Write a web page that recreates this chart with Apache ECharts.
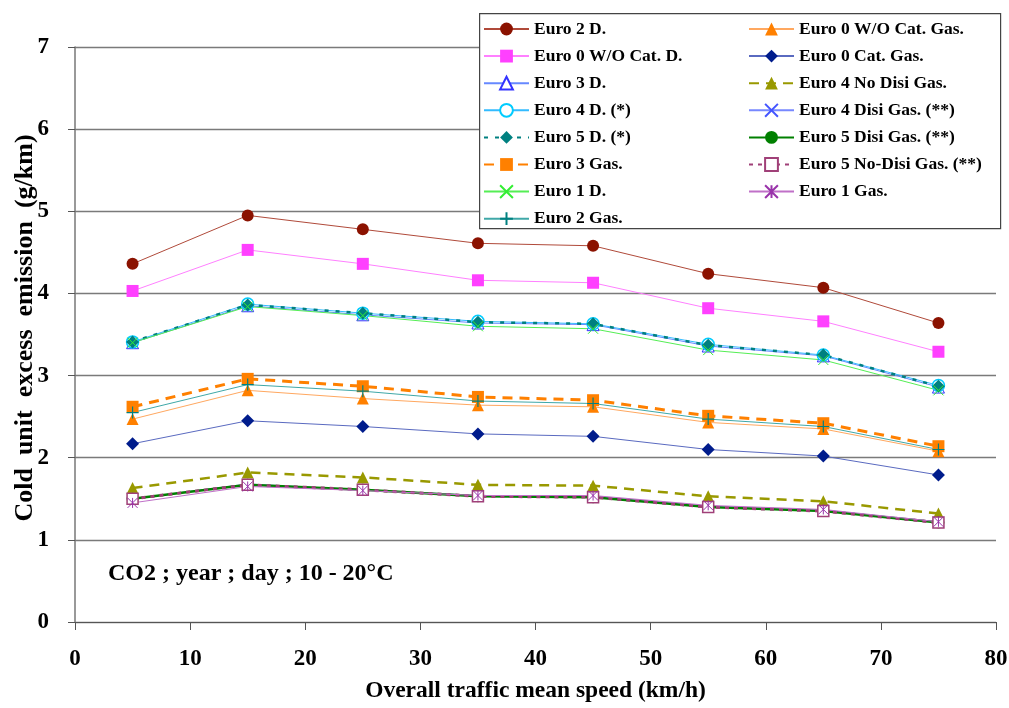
<!DOCTYPE html>
<html><head><meta charset="utf-8">
<script src="https://cdn.jsdelivr.net/npm/echarts@6/dist/echarts.min.js"></script>
<style>html,body{margin:0;padding:0;background:#fff}#c{width:1009px;height:708px}</style>
</head><body><div id="c"></div>
<script>
const speeds = [5, 15, 25, 35, 45, 55, 65, 75];
const yTicks = [0, 1, 2, 3, 4, 5, 6, 7];
const xTicks = [0, 10, 20, 30, 40, 50, 60, 70, 80];

const euro2D        = [4.36, 4.95, 4.78, 4.61, 4.58, 4.24, 4.07, 3.64];
const euro0WOCatD   = [4.03, 4.53, 4.36, 4.16, 4.13, 3.82, 3.66, 3.29];
const euro3D        = [3.40, 3.85, 3.74, 3.64, 3.62, 3.36, 3.24, 2.86];
const euro4D        = [3.41, 3.87, 3.76, 3.66, 3.63, 3.38, 3.25, 2.88];
const euro5D        = [3.41, 3.86, 3.76, 3.65, 3.63, 3.37, 3.25, 2.87];
const euro3Gas      = [2.62, 2.96, 2.87, 2.74, 2.70, 2.51, 2.42, 2.14];
const euro1D        = [3.40, 3.84, 3.73, 3.60, 3.57, 3.31, 3.19, 2.82];
const euro2Gas      = [2.55, 2.89, 2.81, 2.69, 2.66, 2.47, 2.38, 2.10];
const euro0WOCatGas = [2.47, 2.82, 2.72, 2.64, 2.62, 2.43, 2.35, 2.08];
const euro0CatGas   = [2.17, 2.45, 2.38, 2.29, 2.26, 2.10, 2.02, 1.79];
const euro4NoDisi   = [1.63, 1.82, 1.76, 1.67, 1.66, 1.53, 1.47, 1.32];
const euro4Disi     = [1.50, 1.68, 1.61, 1.54, 1.53, 1.41, 1.36, 1.22];
const euro5Disi     = [1.50, 1.67, 1.61, 1.53, 1.52, 1.40, 1.35, 1.21];
const euro5NoDisi   = [1.50, 1.67, 1.61, 1.53, 1.52, 1.40, 1.35, 1.21];
const euro1Gas      = [1.45, 1.65, 1.60, 1.54, 1.54, 1.42, 1.37, 1.22];

const noteText = 'CO2 ; year ; day ; 10 - 20°C';

const X = 'path://M0,0L10,10M10,0L0,10';
const PLUS = 'path://M5,0L5,10M0,5L10,5';
const STAR = 'path://M0,0L10,10M10,0L0,10M5,0L5,10';

function pts(arr){ return speeds.map((s,i)=>[s, arr[i]]); }
function mk(name, arr, o){
  return Object.assign({
    name, type:'line', data: pts(arr), smooth:false, animation:false,
    symbolSize: 11
  }, o);
}

const series = [
  mk('Euro 2 D.', euro2D, {symbol:'circle', symbolSize:12, itemStyle:{color:'#8B1200'}, lineStyle:{color:'#B04A3A', width:1}}),
  mk('Euro 0 W/O Cat. D.', euro0WOCatD, {symbol:'rect', symbolSize:12, itemStyle:{color:'#FF40FF'}, lineStyle:{color:'#FF80FF', width:1}}),
  mk('Euro 0 W/O Cat. Gas.', euro0WOCatGas, {symbol:'triangle', symbolSize:12, itemStyle:{color:'#FF8000'}, lineStyle:{color:'#FFA860', width:1}}),
  mk('Euro 0 Cat. Gas.', euro0CatGas, {symbol:'diamond', symbolSize:13, itemStyle:{color:'#001C8C'}, lineStyle:{color:'#5A6AC0', width:1}}),
  mk('Euro 3 D.', euro3D, {symbol:'triangle', symbolSize:12, itemStyle:{color:'#ffffff', borderColor:'#3333FF', borderWidth:1}, lineStyle:{color:'#6688FF', width:1}}),
  mk('Euro 4 No Disi Gas.', euro4NoDisi, {symbol:'triangle', symbolSize:12, itemStyle:{color:'#999900'}, lineStyle:{color:'#999900', width:2.5, type:[10,7]}}),
  mk('Euro 4 D. (*)', euro4D, {symbol:'circle', symbolSize:12, itemStyle:{color:'#ffffff', borderColor:'#00CCFF', borderWidth:1.5}, lineStyle:{color:'#33BBFF', width:1}}),
  mk('Euro 4 Disi Gas. (**)', euro4Disi, {symbol:X, symbolSize:10, itemStyle:{color:'none', borderColor:'#4455FF', borderWidth:1}, lineStyle:{color:'#7788FF', width:1}}),
  mk('Euro 5 D. (*)', euro5D, {symbol:'diamond', symbolSize:13, itemStyle:{color:'#008080'}, lineStyle:{color:'#008080', width:2.5, type:[4,7]}}),
  mk('Euro 5 Disi Gas. (**)', euro5Disi, {symbol:'circle', symbolSize:12, itemStyle:{color:'#008000'}, lineStyle:{color:'#008000', width:2.5}}),
  mk('Euro 3 Gas.', euro3Gas, {symbol:'rect', symbolSize:12, itemStyle:{color:'#FF8000'}, lineStyle:{color:'#FF8000', width:3, type:[10,7]}}),
  mk('Euro 5 No-Disi Gas. (**)', euro5NoDisi, {symbol:'rect', symbolSize:11, itemStyle:{color:'#ffffff', borderColor:'#A04078', borderWidth:1.5}, lineStyle:{color:'#A04078', width:3, type:[4,5]}}),
  mk('Euro 1 D.', euro1D, {symbol:X, symbolSize:10, itemStyle:{color:'none', borderColor:'#33EE33', borderWidth:1}, lineStyle:{color:'#55EE55', width:1}}),
  mk('Euro 1 Gas.', euro1Gas, {symbol:STAR, symbolSize:10, itemStyle:{color:'none', borderColor:'#9933AA', borderWidth:1}, lineStyle:{color:'#C070C8', width:1}}),
  mk('Euro 2 Gas.', euro2Gas, {symbol:PLUS, symbolSize:12, itemStyle:{color:'none', borderColor:'#008080', borderWidth:1.2}, lineStyle:{color:'#40A8A8', width:1}})
];

const col1 = ['Euro 2 D.', 'Euro 0 W/O Cat. D.', 'Euro 3 D.', 'Euro 4 D. (*)', 'Euro 5 D. (*)', 'Euro 3 Gas.', 'Euro 1 D.', 'Euro 2 Gas.'];
const col2 = ['Euro 0 W/O Cat. Gas.', 'Euro 0 Cat. Gas.', 'Euro 4 No Disi Gas.', 'Euro 4 Disi Gas. (**)', 'Euro 5 Disi Gas. (**)', 'Euro 5 No-Disi Gas. (**)', 'Euro 1 Gas.'];

const FONT = '"Liberation Serif", "DejaVu Serif", serif';
const legendBase = {
  orient:'vertical', top:20, itemWidth:45, itemHeight:16, itemGap:9.1, z:10,
  padding:0, selectedMode:false,
  textStyle:{fontFamily:FONT, fontWeight:'bold', fontSize:17.5, color:'#000', lineHeight:16}
};

const chart = echarts.init(document.getElementById('c'), null, {renderer:'canvas'});
chart.setOption({
  backgroundColor:'#fff',
  animation:false,
  grid:{left:75, right:13, top:47, bottom:86, containLabel:false, outerBoundsMode:'none'},
  xAxis:{
    type:'value', min:0, max:80, interval:10,
    name:'Overall traffic mean speed (km/h)', nameLocation:'middle', nameGap:57, nameMoveOverlap:false,
    nameTextStyle:{fontFamily:FONT, fontWeight:'bold', fontSize:23.5, color:'#000'},
    axisLine:{show:true, onZero:false, lineStyle:{color:'#555', width:1}},
    axisTick:{show:true, length:8, lineStyle:{color:'#555'}},
    axisLabel:{margin:26, fontFamily:FONT, fontWeight:'bold', fontSize:23, color:'#000',
      formatter:v=>xTicks.includes(v)?String(v):''},
    splitLine:{show:false}
  },
  yAxis:{
    type:'value', min:0, max:7, interval:1,
    name:'  Cold  unit  excess  emission  (g/km)', nameLocation:'middle', nameGap:37, nameMoveOverlap:false,
    nameTextStyle:{fontFamily:FONT, fontWeight:'bold', fontSize:26, color:'#000'},
    axisLine:{show:true, lineStyle:{color:'#777', width:1.5}},
    axisTick:{show:true, length:7, lineStyle:{color:'#555'}},
    axisLabel:{margin:26, fontFamily:FONT, fontWeight:'bold', fontSize:23, color:'#000',
      formatter:v=>yTicks.includes(v)?String(v):''},
    splitLine:{show:true, lineStyle:{color:'#7a7a7a', width:1.3}}
  },
  legend:[
    Object.assign({}, legendBase, {left:483, data:col1}),
    Object.assign({}, legendBase, {left:748, data:col2})
  ],
  graphic:[
    {type:'rect', left:479, top:13, z:5, shape:{width:521, height:215},
     style:{fill:'#fff', stroke:'#444', lineWidth:1.2}},
    {type:'text', left:108, top:562, z:5,
     style:{text:noteText, fontFamily:FONT, fontWeight:'bold', fontSize:24, fill:'#000'}}
  ],
  series
});
</script>
</body></html>
